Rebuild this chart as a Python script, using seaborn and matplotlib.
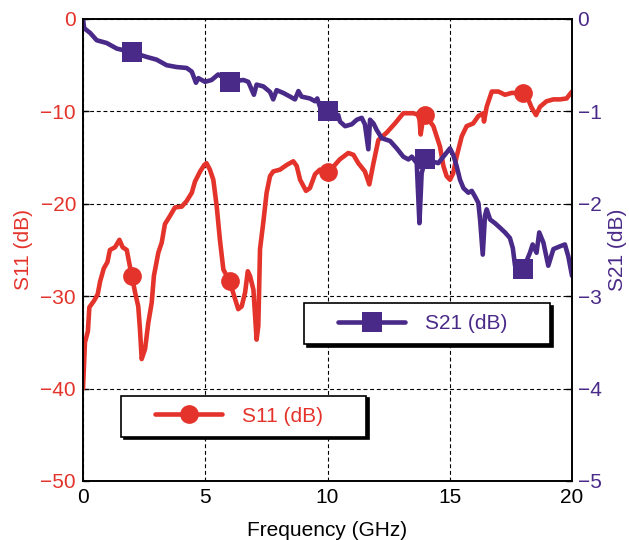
import numpy as np
import pandas as pd
import matplotlib
matplotlib.use("Agg")
import matplotlib.pyplot as plt
import seaborn as sns
from matplotlib.legend_handler import HandlerLine2D

# ---------------- data ----------------
s11_freq = [0.0, 0.08, 0.2, 0.26, 0.45, 0.6, 0.7, 0.85, 1.0, 1.1, 1.31, 1.49, 1.62, 1.79, 1.92,
            2.0, 2.13, 2.26, 2.33, 2.4, 2.54, 2.67, 2.81, 2.9, 3.08, 3.22, 3.35, 3.56, 3.76,
            4.04, 4.24, 4.45, 4.58, 4.79, 4.96, 5.05, 5.19, 5.33, 5.47, 5.6, 5.74, 6.0, 6.22,
            6.35, 6.49, 6.63, 6.74, 6.83, 6.97, 7.1, 7.17, 7.24, 7.37, 7.51, 7.65, 7.78, 8.06,
            8.33, 8.6, 8.74, 8.88, 9.12, 9.28, 9.49, 9.69, 10.0, 10.3, 10.5, 10.85, 11.06,
            11.26, 11.53, 11.71, 11.88, 12.08, 12.42, 12.76, 13.1, 13.51, 13.75, 13.81, 13.9,
            14.0, 14.33, 14.6, 14.74, 14.87, 15.01, 15.14, 15.28, 15.49, 15.69, 15.96, 16.17,
            16.37, 16.4, 16.51, 16.72, 16.99, 17.26, 17.53, 18.0, 18.21, 18.35, 18.53, 18.69,
            18.96, 19.24, 19.51, 19.78, 20.0]
s11_db = [-40.0, -35.0, -33.8, -31.2, -30.5, -29.8, -28.4, -27.0, -26.3, -25.0, -24.7, -23.9,
          -24.7, -25.0, -26.8, -27.8, -29.6, -31.1, -33.6, -36.8, -35.7, -32.9, -30.7, -27.8,
          -25.3, -24.2, -22.2, -21.3, -20.4, -20.3, -19.7, -18.8, -17.6, -16.5, -15.8, -15.6,
          -16.3, -17.4, -20.3, -23.9, -27.1, -28.4, -30.3, -31.4, -31.1, -29.6, -27.3, -27.8,
          -29.3, -34.7, -33.2, -24.9, -22.1, -18.8, -17.0, -16.5, -16.3, -15.8, -15.4, -15.9,
          -17.4, -18.6, -18.3, -16.8, -16.3, -16.6, -15.8, -15.2, -14.5, -14.7, -15.6, -16.5,
          -17.9, -15.6, -13.1, -12.3, -11.3, -10.2, -10.2, -10.4, -12.5, -10.9, -10.4, -11.6,
          -13.8, -15.9, -17.0, -17.4, -16.7, -14.9, -12.7, -11.6, -11.3, -10.5, -10.2, -11.1,
          -9.5, -7.85, -7.85, -8.2, -8.0, -8.0, -8.7, -9.6, -10.4, -9.5, -8.9, -8.7, -8.7,
          -8.6, -7.85]

s21_freq = [0.0, 0.05, 0.29, 0.56, 0.97, 1.38, 2.0, 2.6, 3.01, 3.42, 3.83, 4.24, 4.45, 4.62,
            4.72, 4.99, 5.26, 5.53, 6.0, 6.56, 6.76, 6.99, 7.1, 7.38, 7.65, 7.78, 7.92, 8.19,
            8.47, 8.67, 8.81, 8.94, 9.28, 9.49, 9.58, 9.69, 10.0, 10.44, 10.51, 10.72, 10.99,
            11.2, 11.4, 11.53, 11.67, 11.74, 11.88, 12.01, 12.22, 12.56, 12.83, 13.1, 13.31,
            13.45, 13.65, 13.76, 13.85, 14.0, 14.53, 14.8, 15.01, 15.14, 15.28, 15.42, 15.56,
            15.76, 15.9, 16.03, 16.17, 16.24, 16.35, 16.44, 16.51, 16.65, 16.85, 17.06, 17.26,
            17.46, 17.58, 17.67, 18.0, 18.28, 18.39, 18.55, 18.66, 18.83, 19.03, 19.24, 19.51,
            19.71, 19.85, 20.0]
s21_db = [0.0, -0.1, -0.15, -0.23, -0.26, -0.32, -0.36, -0.41, -0.44, -0.50, -0.52, -0.53,
          -0.57, -0.69, -0.64, -0.68, -0.66, -0.60, -0.68, -0.66, -0.68, -0.82, -0.71, -0.73,
          -0.79, -0.87, -0.77, -0.80, -0.84, -0.87, -0.78, -0.84, -0.86, -0.89, -0.86, -0.95,
          -1.0, -1.04, -1.11, -1.16, -1.14, -1.09, -1.07, -1.14, -1.41, -1.09, -1.13, -1.20,
          -1.29, -1.32, -1.40, -1.49, -1.52, -1.49, -1.56, -2.21, -1.67, -1.52, -1.56, -1.47,
          -1.40, -1.47, -1.59, -1.74, -1.83, -1.88, -1.86, -1.92, -1.99, -2.17, -2.55, -2.13,
          -2.06, -2.17, -2.21, -2.26, -2.31, -2.37, -2.48, -2.67, -2.71, -2.53, -2.44, -2.53,
          -2.31, -2.42, -2.67, -2.49, -2.46, -2.44, -2.57, -2.78]

marker_freqs = [2, 6, 10, 14, 18]
x_ticks = [0, 5, 10, 15, 20]
s11_ticks = [0, -10, -20, -30, -40, -50]
s21_ticks = [0, -1, -2, -3, -4, -5]

RED = "#E4332B"
PURPLE = "#4A2A88"

# ---------------- style ----------------
sns.set_theme(style="white")
plt.rcParams["font.family"] = ["Liberation Sans", "DejaVu Sans"]
plt.rcParams["axes.unicode_minus"] = True
FS = 15

fig = plt.figure(figsize=(6.29, 5.40), dpi=100)
ax = fig.add_axes([83 / 629, 1 - 481 / 540, 489 / 629, 462 / 540])
ax2 = ax.twinx()

df11 = pd.DataFrame({"f": s11_freq, "v": s11_db})
df21 = pd.DataFrame({"f": s21_freq, "v": s21_db})
mk11 = [i for i, f in enumerate(s11_freq) if f in marker_freqs]
mk21 = [i for i, f in enumerate(s21_freq) if f in marker_freqs]

sns.lineplot(data=df11, x="f", y="v", ax=ax, color=RED, lw=3.3, marker="o",
             markersize=13.5, markevery=mk11, markeredgewidth=0, label="S11 (dB)",
             legend=False, estimator=None)
sns.lineplot(data=df21, x="f", y="v", ax=ax2, color=PURPLE, lw=3.3, marker="s",
             markersize=14, markevery=mk21, markeredgewidth=0, label="S21 (dB)",
             legend=False, estimator=None)

ax.set_xlim(0, 20)
ax.set_ylim(-50, 0)
ax2.set_ylim(-5, 0)
ax.set_xticks(x_ticks)
ax.set_yticks(s11_ticks)
ax2.set_yticks(s21_ticks)
ax.set_xticklabels([str(t) for t in x_ticks])
ax.set_yticklabels(["\u2212" + str(-t) if t < 0 else str(t) for t in s11_ticks])
ax2.set_yticklabels(["\u2212" + str(-t) if t < 0 else str(t) for t in s21_ticks])

ax.grid(True, color="black", linestyle=(0, (3.5, 2.5)), linewidth=0.8)
ax2.grid(False)
for a in (ax, ax2):
    for s in a.spines.values():
        s.set_color("black")
        s.set_linewidth(1.2)
ax.tick_params(axis="x", colors="black", labelcolor="black", labelsize=FS,
               direction="in", length=4, width=1, pad=5)
ax.tick_params(axis="y", color="black", labelcolor=RED, labelsize=FS,
               direction="in", length=4, width=1, pad=5)
ax2.tick_params(axis="y", color="black", labelcolor=PURPLE, labelsize=FS,
                direction="in", length=4, width=1, pad=4)

ax.set_xlabel("Frequency (GHz)", fontsize=FS, color="black", labelpad=10)
ax.set_ylabel("S11 (dB)", fontsize=FS, color=RED, labelpad=5)
ax2.set_ylabel("S21 (dB)", fontsize=FS, color=PURPLE, labelpad=5)

# ---------------- legends ----------------
h11 = ax.get_lines()[0]
h21 = ax2.get_lines()[0]
common = dict(mode="expand", loc="upper left", borderaxespad=0, borderpad=0.53,
              handlelength=4.32, handletextpad=0.96, fancybox=False, frameon=True,
              shadow={"color": "black", "alpha": 1}, fontsize=FS, edgecolor="black",
              framealpha=1)
leg11 = ax.legend([h11], ["S11 (dB)"], bbox_to_anchor=(38 / 489, 0.085, 245 / 489, 0.1),
                  handler_map={h11: HandlerLine2D(xpad=1.1)}, labelcolor=RED, **common)
leg11.get_frame().set_linewidth(1.2)
ax.legend_ = None
ax.add_artist(leg11)
leg21 = ax2.legend([h21], ["S21 (dB)"], bbox_to_anchor=(221 / 489, 0.282, 246 / 489, 0.103),
                   handler_map={h21: HandlerLine2D(xpad=1.1)}, labelcolor=PURPLE, **common)
leg21.get_frame().set_linewidth(1.2)

fig.savefig("out.png", dpi=100)
